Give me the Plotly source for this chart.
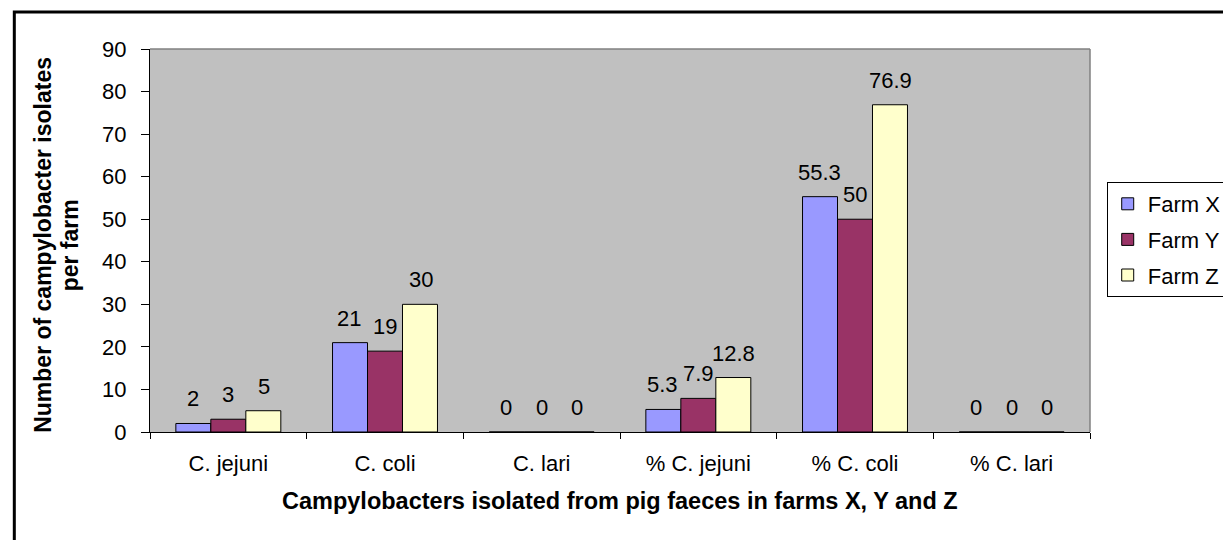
import plotly.graph_objects as go

categories = ["C. jejuni", "C. coli", "C. lari", "% C. jejuni", "% C. coli", "% C. lari"]
farm_x = [2, 21, 0, 5.3, 55.3, 0]
farm_y = [3, 19, 0, 7.9, 50, 0]
farm_z = [5, 30, 0, 12.8, 76.9, 0]
series_names = ["Farm X", "Farm Y", "Farm Z"]
series_colors = ["#9999FF", "#993366", "#FFFFCC"]
y_ticks = [0, 10, 20, 30, 40, 50, 60, 70, 80, 90]

W, H = 1231, 540
L, R, T, B = 142, 1098, 41, 424
BARGAP = 0.33


def px(x):
    return (x - L) / (R - L)


def py(y):
    return (B - y) / (B - T)


FONT = "Liberation Sans, Arial, sans-serif"

fig = go.Figure()
series = [farm_x, farm_y, farm_z]
for name, vals, col in zip(series_names, series, series_colors):
    fig.add_trace(go.Bar(
        x=categories, y=vals, name=name,
        marker=dict(color=col, line=dict(color="black", width=1)),
        cliponaxis=False, legendgroup=name,
    ))

# value labels above each bar, offset to each bar's slot in its group
cat_w = (R - L) / len(categories)
bar_w = cat_w * (1 - BARGAP) / len(series)
annotations = []
for i, vals in enumerate(series):
    for c, v in zip(categories, vals):
        annotations.append(dict(
            x=c, y=v, xref="x", yref="y", text=f"{v:g}", showarrow=False,
            xanchor="center", yanchor="bottom", xshift=(i - 1) * bar_w, yshift=10,
            font=dict(size=22, family=FONT, color="black"),
        ))

annotations += [
    dict(text="<b>Campylobacters isolated from pig faeces in farms X, Y and Z</b>",
         xref="paper", yref="paper", x=0.5, y=py(493), xanchor="center", yanchor="middle",
         showarrow=False, font=dict(size=23.5, family=FONT)),
    dict(text="<b>Number of campylobacter isolates</b>",
         xref="paper", yref="paper", x=px(33), y=py(237), xanchor="center", yanchor="middle",
         textangle=-90, showarrow=False, font=dict(size=23, family=FONT)),
    dict(text="<b>per farm</b>",
         xref="paper", yref="paper", x=px(61), y=py(237), xanchor="center", yanchor="middle",
         textangle=-90, showarrow=False, font=dict(size=23, family=FONT)),
]

fig.update_layout(
    width=W, height=H,
    margin=dict(l=L, r=W - R, t=T, b=H - B),
    paper_bgcolor="white", plot_bgcolor="#C0C0C0",
    barmode="group", bargap=BARGAP, bargroupgap=0,
    font=dict(family=FONT, size=22, color="black"),
    showlegend=True,
    legend=dict(
        x=px(1115), y=py(174), xanchor="left", yanchor="top",
        bgcolor="white", bordercolor="black", borderwidth=1,
        font=dict(size=22, family=FONT, color="black"),
        tracegroupgap=4,
    ),
    xaxis=dict(
        type="category", showgrid=False, showline=True, linecolor="black", linewidth=1,
        ticks="outside", tickson="boundaries", ticklen=6, tickcolor="black",
        tickfont=dict(size=22), ticklabelstandoff=12, zeroline=False,
    ),
    yaxis=dict(
        range=[0, 90], tickvals=y_ticks, showgrid=False, showline=True,
        linecolor="black", linewidth=1, ticks="outside", ticklen=8, tickcolor="black",
        tickfont=dict(size=22), ticklabelstandoff=10, zeroline=False,
    ),
    shapes=[
        dict(type="line", xref="paper", yref="paper", x0=0, x1=1, y0=1, y1=1,
             line=dict(color="#808080", width=1.5)),
        dict(type="line", xref="paper", yref="paper", x0=1, x1=1, y0=0, y1=1,
             line=dict(color="#808080", width=1.5)),
        dict(type="rect", xref="paper", yref="paper", x0=px(4), x1=px(1245),
             y0=py(538), y1=py(4), line=dict(color="black", width=3), layer="below"),
    ],
    annotations=annotations,
)

fig.write_html("out.html")
